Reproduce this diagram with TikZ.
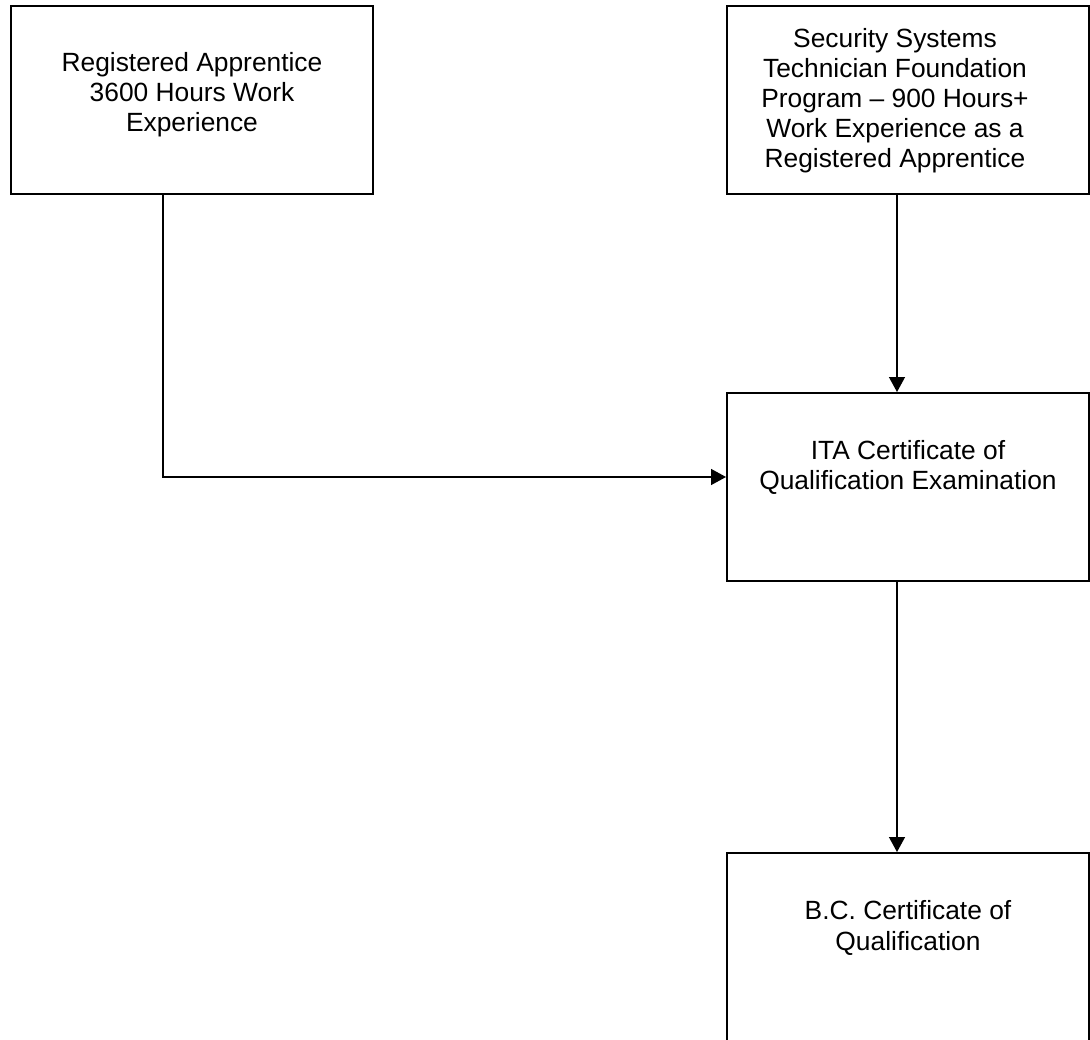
\documentclass[tikz,border=0pt]{standalone}
\usepackage{fontspec}
\setmainfont{Liberation Sans}
\usetikzlibrary{
  arrows.meta, % For arrow tips
  calc
}

\begin{document}
\begin{tikzpicture}[
      x=0.02cm, y=-0.02cm, % one unit = one pixel of the sheet
      >={Triangle[length=8.5pt, width=9pt]}, % Default arrow tip
      box/.style={draw, line width=1.1pt, minimum width=7.24cm, minimum height=3.76cm, inner sep=0pt}, % Style for the boxes
      boxtext/.style={anchor=base, align=center, inner sep=0pt, font=\fontsize{15pt}{17.1pt}\selectfont}, % Style for box texts (base = last line)
      conn/.style={line width=0.9pt, ->}, % Style for connectors
    ]

    % Sheet
    \useasboundingbox (0,0) rectangle (1090,1040);
    \clip (0,0) rectangle (1090,1040);

    % Boxes
    \node[box] (appr) at (192,100) {};
    \node[box] (found) at (908,100) {};
    \node[box] (exam) at (908,487) {};
    \node[box] (cert) at (908,947) {};

    % Texts
    \node[boxtext] (apprtext) at (192,132) {Registered Apprentice\\3600 Hours Work\\Experience};
    \node[boxtext] (foundtext) at (895,168) {Security Systems\\Technician Foundation\\Program -- 900 Hours+\\Work Experience as a\\Registered Apprentice};
    \node[boxtext] (examtext) at (908,490) {ITA Certificate of\\Qualification Examination};
    \node[boxtext] (certtext) at (908,950) {B.C. Certificate of\\Qualification};

    % Connector points
    \coordinate (apprbend) at (163,477);
    \coordinate (mainline) at (897,0);

    % Connectors
    \draw[conn] (appr.south -| apprbend) -- (apprbend) -- (exam.west |- apprbend);
    \draw[conn] (found.south -| mainline) -- (exam.north -| mainline);
    \draw[conn] (exam.south -| mainline) -- (cert.north -| mainline);
  \end{tikzpicture}
\end{document}
